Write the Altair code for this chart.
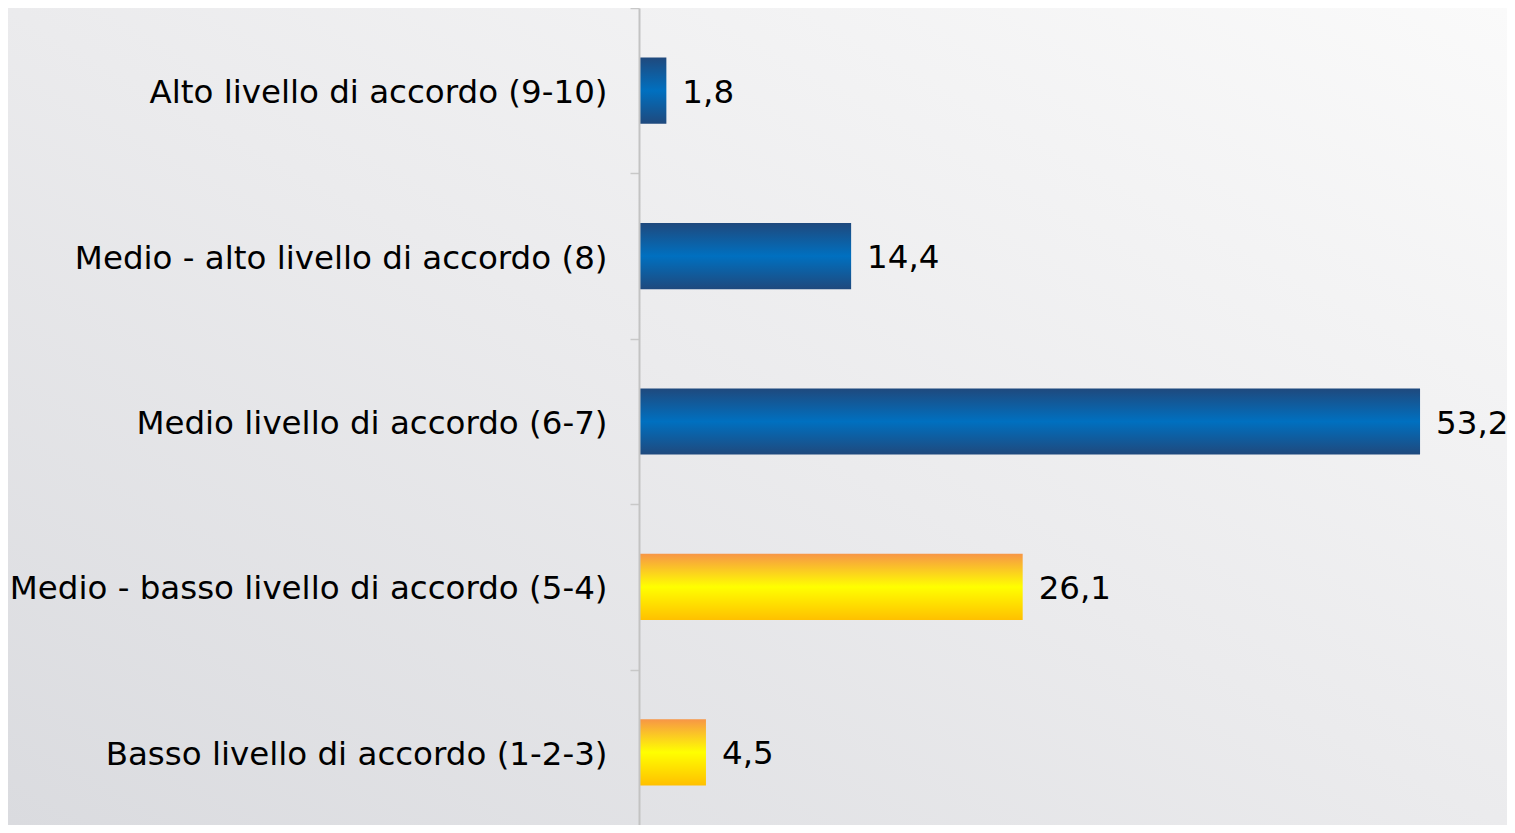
import altair as alt
import pandas as pd

categorie = [
    "Alto livello di accordo (9-10)",
    "Medio - alto livello di accordo (8)",
    "Medio livello di accordo (6-7)",
    "Medio - basso livello di accordo (5-4)",
    "Basso livello di accordo (1-2-3)",
]
valori = [1.8, 14.4, 53.2, 26.1, 4.5]
toni = ["blu", "blu", "blu", "giallo", "giallo"]

df = pd.DataFrame({"cat": categorie, "v": valori, "tono": toni})

W, H = 1499, 817
FONT = "DejaVu Sans"
FS = 32.5

grad_blu = alt.LinearGradient(
    gradient="linear", x1=0, y1=0, x2=0, y2=1,
    stops=[alt.GradientStop(color="#1f497d", offset=0),
           alt.GradientStop(color="#0070c0", offset=0.5),
           alt.GradientStop(color="#1f497d", offset=1)],
)
grad_giallo = alt.LinearGradient(
    gradient="linear", x1=0, y1=0, x2=0, y2=1,
    stops=[alt.GradientStop(color="#f79646", offset=0),
           alt.GradientStop(color="#ffff00", offset=0.5),
           alt.GradientStop(color="#ffc000", offset=1)],
)
sfondo = alt.LinearGradient(
    gradient="linear", x1=0, y1=1, x2=1, y2=0,
    stops=[alt.GradientStop(color="#dadbdf", offset=0),
           alt.GradientStop(color="#ebebed", offset=0.5),
           alt.GradientStop(color="#fafafa", offset=1)],
)

x = alt.X("v:Q", axis=None,
          scale=alt.Scale(domain=[-43.10, 59.13], nice=False, zero=False))
y = alt.Y("cat:N", sort=categorie, title=None,
          scale=alt.Scale(range=[0, 827], paddingInner=0, paddingOuter=0),
          axis=alt.Axis(orient="left", offset=-631, tickBand="extent",
                        domainColor="#c3c3c3", domainWidth=2,
                        tickColor="#c8c8c8", tickWidth=1.5, tickSize=9,
                        labelPadding=23, labelFont=FONT, labelFontSize=FS,
                        labelColor="#000000", labelLimit=1000, grid=False,
                        labelBaseline="middle", labelOffset=2, zindex=1))

sfondo_layer = alt.Chart(pd.DataFrame({"k": [0]})).mark_rect(fill=sfondo).encode(
    x=alt.value(0), x2=alt.value(W), y=alt.value(0), y2=alt.value(H)
)

base = alt.Chart(df)

barre_blu = base.transform_filter("datum.tono == 'blu'").mark_bar(
    height=alt.RelativeBandSize(0.4), fill=grad_blu
).encode(x=x, y=y)

barre_gialle = base.transform_filter("datum.tono == 'giallo'").mark_bar(
    height=alt.RelativeBandSize(0.4), fill=grad_giallo
).encode(x=x, y=y)

etichette = base.transform_calculate(
    lab="replace(format(datum.v, '.1f'), '.', ',')"
).mark_text(align="left", baseline="middle", dx=16, dy=2, font=FONT,
            fontSize=FS, color="#000000").encode(x=x, y=y, text="lab:N")

chart = alt.layer(sfondo_layer, barre_blu, barre_gialle, etichette).properties(
    width=W, height=H, padding=0,
    autosize=alt.AutoSizeParams(type="none"),
).configure_view(strokeWidth=0)

chart.save("out.html", embed_options={"renderer": "svg", "actions": False})
